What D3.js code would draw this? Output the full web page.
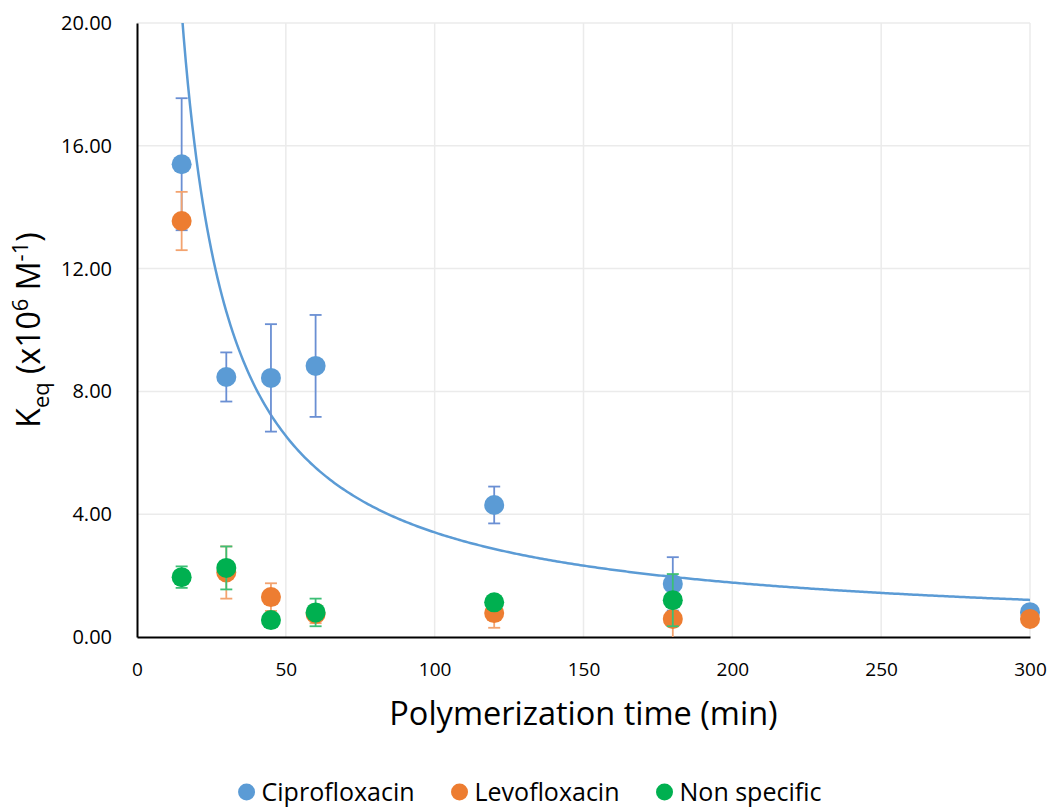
<!DOCTYPE html>
<html><head><meta charset="utf-8">
<script src="https://cdn.jsdelivr.net/npm/d3@7"></script>
<style>body{margin:0;background:#fff}svg{display:block}text{font-family:"Open Sans","Liberation Sans",sans-serif}</style>
</head><body><svg id="c" width="1050" height="807"></svg>
<script>
const times = [15, 30, 45, 60, 120, 180, 300];
const seriesNames = ["Ciprofloxacin", "Levofloxacin", "Non specific"];
const cipro = [15.4, 8.47, 8.44, 8.83, 4.3, 1.73, 0.81];
const ciproErr = [2.15, 0.8, 1.75, 1.66, 0.6, 0.87, 0.2];
const levo = [13.55, 2.1, 1.3, 0.75, 0.78, 0.59, 0.59];
const levoErr = [0.95, 0.85, 0.45, 0.3, 0.48, 0.6, 0.15];
const nonspec = [1.95, 2.25, 0.55, 0.8, 1.13, 1.2, null];
const nonspecErr = [0.35, 0.7, 0.1, 0.45, 0.15, 0.85, null];
const xTicks = [0, 50, 100, 150, 200, 250, 300];
const yTicks = [0, 4, 8, 12, 16, 20];
const colors = ["#5B9BD5", "#ED7D31", "#00B050"];
const errColors = ["#6A8FD3", "#F3A36F", "#3CBF75"];

const svg = d3.select("#c");
const L = 137, R = 1030, T = 23, B = 637;
const x = d3.scaleLinear().domain([0, 300]).range([L, R]);
const y = d3.scaleLinear().domain([0, 20]).range([B, T]);

// gridlines
svg.append("g").selectAll("line").data(yTicks.filter(d => d > 0)).join("line")
  .attr("x1", L).attr("x2", R).attr("y1", d => y(d)).attr("y2", d => y(d))
  .attr("stroke", "#ebebeb").attr("stroke-width", 1.5);
svg.append("g").selectAll("line").data(xTicks.filter(d => d > 0)).join("line")
  .attr("y1", T).attr("y2", B).attr("x1", d => x(d)).attr("x2", d => x(d))
  .attr("stroke", "#ebebeb").attr("stroke-width", 1.5);

// axes
const yAxis = d3.axisLeft(y).tickValues(yTicks).tickFormat(d3.format(".2f")).tickSize(0).tickPadding(25);
const gy = svg.append("g").attr("transform", `translate(${L},0)`).call(yAxis);
gy.select(".domain").attr("stroke", "#000").attr("stroke-width", 2);
gy.selectAll("text").attr("font-size", 20).attr("fill", "#000").attr("font-family", "'Open Sans',sans-serif");
const xAxis = d3.axisBottom(x).tickValues(xTicks).tickSize(0).tickPadding(26);
const gx = svg.append("g").attr("transform", `translate(0,${B})`).call(xAxis);
gx.select(".domain").attr("stroke", "#000").attr("stroke-width", 2);
gx.selectAll("text").attr("font-size", 19).attr("fill", "#000").attr("font-family", "'Open Sans',sans-serif");

// trendline (power fit to Ciprofloxacin, least squares in log-log space)
const lx = times.map(Math.log), ly = cipro.map(Math.log);
const mx = d3.mean(lx), my = d3.mean(ly);
const b = d3.sum(lx.map((v, i) => (v - mx) * (ly[i] - my))) / d3.sum(lx.map(v => (v - mx) ** 2));
const a = Math.exp(my - b * mx);
const fitX = d3.range(0, 401).map(i => 15 + (300 - 15) * i / 400);
svg.append("clipPath").attr("id", "clip").append("rect").attr("x", L).attr("y", T).attr("width", R - L).attr("height", B - T);
svg.append("path").datum(fitX).attr("clip-path", "url(#clip)")
  .attr("d", d3.line().x(d => x(d)).y(d => y(a * Math.pow(d, b))))
  .attr("fill", "none").attr("stroke", "#5B9BD5").attr("stroke-width", 2.5);

// series
const all = [[cipro, ciproErr], [levo, levoErr], [nonspec, nonspecErr]];
all.forEach(([vals, errs], si) => {
  const pts = times.map((t, i) => ({t, v: vals[i], e: errs[i]})).filter(p => p.v != null);
  const g = svg.append("g");
  const eg = g.append("g").attr("stroke", errColors[si]).attr("stroke-width", 1.8);
  pts.forEach(p => {
    eg.append("line").attr("x1", x(p.t)).attr("x2", x(p.t)).attr("y1", y(p.v + p.e)).attr("y2", y(Math.max(0, p.v - p.e)));
    eg.append("line").attr("x1", x(p.t) - 6).attr("x2", x(p.t) + 6).attr("y1", y(p.v + p.e)).attr("y2", y(p.v + p.e));
    if (p.v - p.e > 0) eg.append("line").attr("x1", x(p.t) - 6).attr("x2", x(p.t) + 6).attr("y1", y(p.v - p.e)).attr("y2", y(p.v - p.e));
  });
  g.selectAll("circle").data(pts).join("circle")
    .attr("cx", p => x(p.t)).attr("cy", p => y(p.v)).attr("r", 10).attr("fill", colors[si]);
});

// titles
svg.append("text").attr("x", (L + R) / 2).attr("y", 725).attr("text-anchor", "middle")
  .attr("font-size", 32.5).attr("fill", "#000").text("Polymerization time (min)");
const yt = svg.append("text").attr("transform", "translate(40,330) rotate(-90)").attr("text-anchor", "middle")
  .attr("font-size", 32).attr("fill", "#000");
yt.append("tspan").text("K");
yt.append("tspan").attr("font-size", 22).attr("dy", 9).text("eq");
yt.append("tspan").attr("dy", -9).text(" (x10");
yt.append("tspan").attr("font-size", 22).attr("dy", -12).text("6");
yt.append("tspan").attr("dy", 12).text(" M");
yt.append("tspan").attr("font-size", 22).attr("dy", -12).text("-1");
yt.append("tspan").attr("dy", 12).text(")");

// legend
const lg = svg.append("g");
const items = [];
seriesNames.forEach((n, i) => {
  const it = lg.append("g");
  it.append("circle").attr("cx", 8).attr("cy", -9).attr("r", 8.5).attr("fill", colors[i]);
  const t = it.append("text").attr("x", 23).attr("y", 0).attr("font-size", 25).attr("fill", "#000").text(n);
  items.push([it, 23 + t.node().getComputedTextLength()]);
});
const gap = 37;
const total = d3.sum(items, d => d[1]) + gap * (items.length - 1);
let cx = 530 - total / 2;
items.forEach(([it, w]) => { it.attr("transform", `translate(${cx},801)`); cx += w + gap; });
</script></body></html>
